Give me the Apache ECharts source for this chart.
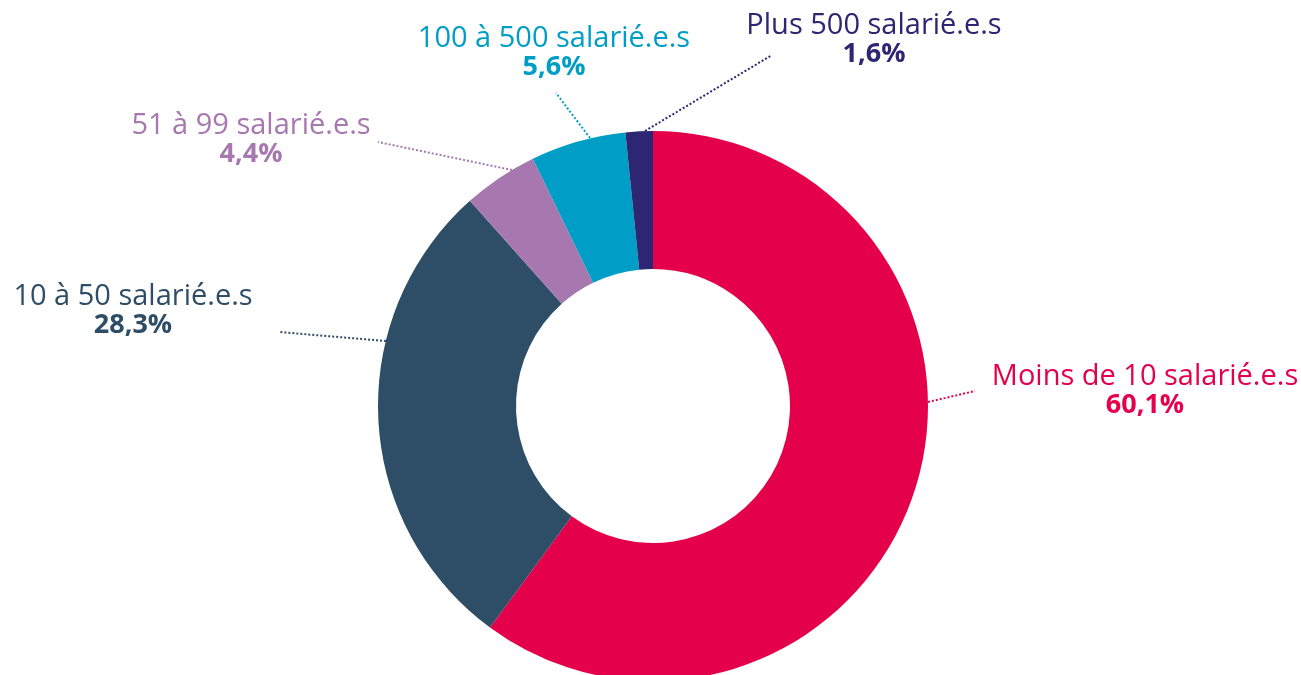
<!DOCTYPE html>
<html>
<head>
<meta charset="utf-8">
<script src="https://cdn.jsdelivr.net/npm/echarts@6/dist/echarts.min.js"></script>
<style>
  html, body { margin: 0; padding: 0; background: #fff; }
  #chart { width: 1301px; height: 675px; }
</style>
</head>
<body>
<div id="chart"></div>
<script>
const categories = ['Moins de 10 salarié.e.s', '10 à 50 salarié.e.s', '51 à 99 salarié.e.s', '100 à 500 salarié.e.s', 'Plus 500 salarié.e.s'];
const shares = [60.1, 28.3, 4.4, 5.6, 1.6];
const colors = ['#e5004b', '#2e4d66', '#a778b0', '#009ec6', '#2c2673'];

// where each label sits (center x, middle y) and where its leader line starts/ends
const labelPos = [[1145, 391], [133, 311], [251, 140], [554, 53], [874, 40]];
const leaderLines = [
  [[928, 402], [975, 391]],
  [[386, 341], [279, 332]],
  [[512, 170], [378, 142]],
  [[590, 138], [556, 93]],
  [[645, 131], [772, 55]]
];

const chart = echarts.init(document.getElementById('chart'));

const fmt = v => v.toFixed(1).replace('.', ',') + '%';

chart.setOption({
  animation: false,
  series: [{
    type: 'pie',
    center: [653, 406],
    radius: [137, 275],
    startAngle: 90,
    clockwise: true,
    data: categories.map((name, i) => ({
      name,
      value: shares[i],
      itemStyle: { color: colors[i] },
      label: { color: colors[i] },
      labelLine: { lineStyle: { color: colors[i] } }
    })),
    label: {
      show: true,
      position: 'outside',
      fontFamily: 'Open Sans',
      align: 'center',
      formatter: p => '{n|' + p.name + '}\n{v|' + fmt(p.value) + '}',
      rich: {
        n: { fontSize: 29, fontFamily: 'Open Sans', fontWeight: 'normal', lineHeight: 29, align: 'center' },
        v: { fontSize: 27, fontFamily: 'Open Sans', fontWeight: 'bold', lineHeight: 29, align: 'center' }
      }
    },
    labelLine: {
      show: true,
      length: 20,
      length2: 20,
      lineStyle: { type: 'dotted', width: 2 }
    },
    labelLayout: params => {
      const i = params.dataIndex;
      return {
        x: labelPos[i][0],
        y: labelPos[i][1],
        align: 'center',
        verticalAlign: 'middle',
        labelLinePoints: leaderLines[i]
      };
    }
  }]
});
</script>
</body>
</html>
